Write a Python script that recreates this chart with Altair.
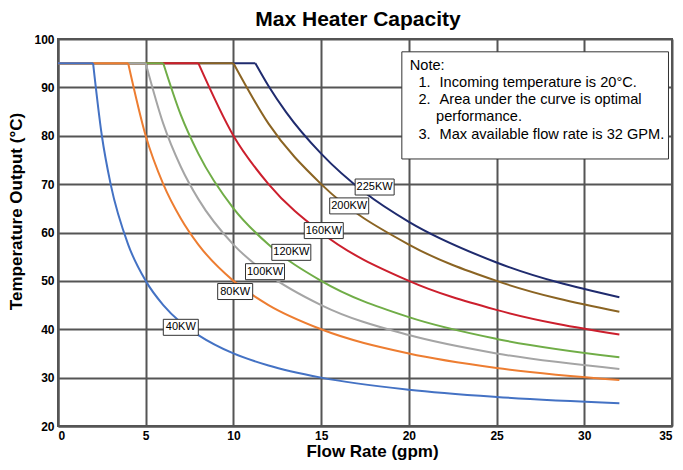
import altair as alt
import pandas as pd

# ---------------- data ----------------
series_names = ["40KW", "80KW", "100KW", "120KW", "160KW", "200KW", "225KW"]
series_colors = ["#4472C4", "#ED7D31", "#A5A5A5", "#70AD47", "#CC1F2D", "#8B6423", "#1F2B6E"]

cap_temp = 95
# flow rate where each curve leaves the 95 °C cap
knee_flow = [2, 4, 5, 6, 8, 10, 11.25]

flow_40 = [2, 2.5, 3, 4, 5, 6, 7, 8, 10, 12, 15, 20, 25, 32]
temp_40 = [95, 80, 70, 57.5, 50, 45, 41.4, 38.8, 35, 32.5, 30, 27.5, 26, 24.7]

flow_80 = [4, 5, 6, 7, 8, 10, 12, 15, 20, 25, 32]
temp_80 = [95, 80, 70, 62.9, 57.5, 50, 45, 40, 35, 32, 29.5]

flow_100 = [5, 6, 7, 8, 10, 12, 15, 20, 25, 32]
temp_100 = [95, 82.5, 73.6, 66.9, 57.5, 51.3, 45, 38.8, 35, 31.8]

flow_120 = [6, 7, 8, 10, 12, 15, 20, 25, 32]
temp_120 = [95, 84.3, 76.3, 65, 57.5, 50, 42.5, 38, 34.2]

flow_160 = [8, 10, 12, 15, 20, 25, 32]
temp_160 = [95, 80, 70, 60, 50, 44, 38.9]

flow_200 = [10, 12, 15, 20, 25, 32]
temp_200 = [95, 82.5, 70, 57.5, 50, 43.6]

flow_225 = [11.25, 12, 13, 15, 17.5, 20, 25, 32]
temp_225 = [95, 90.3, 84.9, 76.3, 68.2, 62.2, 53.8, 46.6]

all_flows = [flow_40, flow_80, flow_100, flow_120, flow_160, flow_200, flow_225]
all_temps = [temp_40, temp_80, temp_100, temp_120, temp_160, temp_200, temp_225]

# curve labels (centre of each boxed label)
label_flow = [7.0, 10.1, 11.8, 13.3, 15.15, 16.6, 18.05]
label_temp = [40.4, 47.8, 51.9, 55.9, 60.4, 65.5, 69.4]

# note box
note_box_flow = [19.6, 34.8]
note_box_temp = [75.2, 97.35]
note_head = "Note:"
note_head_pos = [20.05, 94.5]
note_nums = ["1.", "2.", "3."]
note_nums_flow = 20.55
note_nums_temp = [90.94, 87.38, 80.25]
note_body = ["Incoming temperature is 20°C.", "Area under the curve is optimal",
             "performance.", "Max available flow rate is 32 GPM."]
note_body_flow = [21.75, 21.75, 21.55, 21.75]
note_body_temp = [90.94, 87.38, 83.82, 80.25]

x_ticks = [0, 5, 10, 15, 20, 25, 30, 35]
y_ticks = [20, 30, 40, 50, 60, 70, 80, 90, 100]

FONT = "Liberation Sans"
W, H = 614, 387

xscale = alt.Scale(domain=[0, 35], nice=False)
yscale = alt.Scale(domain=[20, 100], nice=False)
xaxis = alt.Axis(values=x_ticks, title="Flow Rate (gpm)", titlePadding=2, titleX=314, labelFlush=True)
yaxis = alt.Axis(values=y_ticks, title="Temperature Output (°C)", titlePadding=8, titleY=172)

layers = []
# draw 225KW first so that 40KW ends up on top (as in the reference)
for i in reversed(range(len(series_names))):
    rows = [{"flow": 0, "temp": cap_temp, "part": "cap"},
            {"flow": knee_flow[i], "temp": cap_temp, "part": "cap"}]
    rows += [{"flow": f, "temp": t, "part": "decay"} for f, t in zip(all_flows[i], all_temps[i])]
    df = pd.DataFrame(rows)
    layers.append(
        alt.Chart(df).mark_line(color=series_colors[i], strokeWidth=2, interpolate="monotone").encode(
            x=alt.X("flow:Q", scale=xscale, axis=xaxis),
            y=alt.Y("temp:Q", scale=yscale, axis=yaxis),
            detail="part:N",
        )
    )

# boxed labels
for name, lf, lt in zip(series_names, label_flow, label_temp):
    w = 35 if len(name) <= 4 else 39
    h = 16
    r = h / w
    shape = f"M-1,-{r:.4f}L1,-{r:.4f}L1,{r:.4f}L-1,{r:.4f}Z"
    ldf = pd.DataFrame({"flow": [lf], "temp": [lt], "label": [name]})
    layers.append(
        alt.Chart(ldf).mark_point(shape=shape, size=w * w, filled=True, fill="white",
                                  stroke="#333333", strokeWidth=1, opacity=1).encode(
            x=alt.X("flow:Q", scale=xscale), y=alt.Y("temp:Q", scale=yscale))
    )
    layers.append(
        alt.Chart(ldf).mark_text(font=FONT, fontSize=11, color="black", baseline="middle",
                                 align="center").encode(
            x=alt.X("flow:Q", scale=xscale), y=alt.Y("temp:Q", scale=yscale), text="label:N")
    )

# note box
nb = pd.DataFrame({"x1": [note_box_flow[0]], "x2": [note_box_flow[1]],
                   "y1": [note_box_temp[0]], "y2": [note_box_temp[1]]})
layers.append(
    alt.Chart(nb).mark_rect(fill="white", stroke="#333333", strokeWidth=1).encode(
        x=alt.X("x1:Q", scale=xscale), x2="x2:Q", y=alt.Y("y1:Q", scale=yscale), y2="y2:Q")
)
note_rows = [{"flow": note_head_pos[0], "temp": note_head_pos[1], "txt": note_head}]
note_rows += [{"flow": note_nums_flow, "temp": t, "txt": s} for s, t in zip(note_nums, note_nums_temp)]
note_rows += [{"flow": f, "temp": t, "txt": s} for s, f, t in zip(note_body, note_body_flow, note_body_temp)]
ndf = pd.DataFrame(note_rows)
layers.append(
    alt.Chart(ndf).mark_text(font=FONT, fontSize=14.6, color="black", align="left", baseline="middle").encode(
        x=alt.X("flow:Q", scale=xscale), y=alt.Y("temp:Q", scale=yscale), text="txt:N")
)

chart = alt.layer(*layers).properties(
    width=W,
    height=H,
    autosize=alt.AutoSizeParams(type="none"),
    padding={"left": 50, "top": 31, "right": 3, "bottom": 36},
    title=alt.TitleParams("Max Heater Capacity", font=FONT, fontSize=21, fontWeight="bold",
                          color="black", anchor="middle", offset=3, dx=-7),
).configure_view(
    stroke="#555555", strokeWidth=2
).configure_axis(
    grid=True, gridColor="#555555", gridWidth=2, gridOpacity=1,
    domainColor="#555555", domainWidth=2, ticks=False,
    labelFont=FONT, labelFontSize=12, labelFontWeight="bold", labelColor="black", labelPadding=4,
    titleFont=FONT, titleFontSize=17, titleFontWeight="bold", titleColor="black",
)

chart.save("out.html", embed_options={"renderer": "svg", "actions": False})
